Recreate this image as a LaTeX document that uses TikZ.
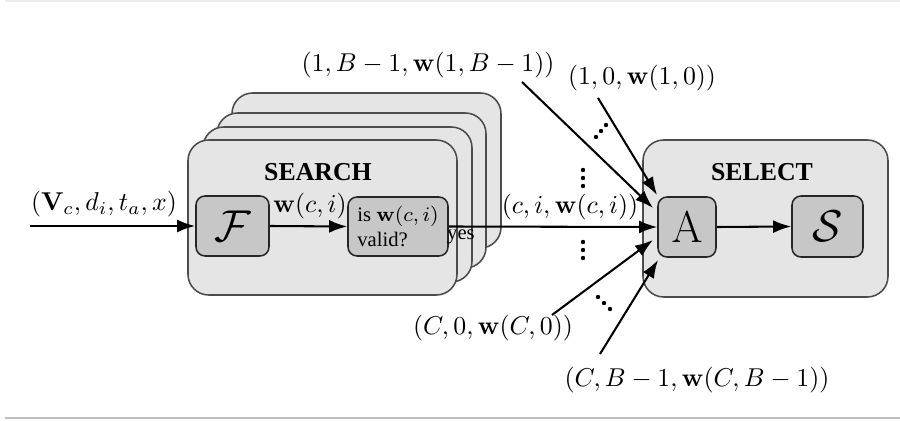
\documentclass[tikz,border=0pt]{standalone}
\usepackage[no-math]{fontspec}
\newfontfamily\tms{Liberation Serif}
\usetikzlibrary{arrows.meta}
\begin{document}
\begin{tikzpicture}[x=0.3876pt,y=-0.3876pt,
  bigbox/.style={draw=black!70, fill=black!10, line width=0.6pt, rounded corners=8pt},
  inbox/.style={draw=black!85, fill=black!22, line width=0.6pt, rounded corners=3.5pt, inner sep=0pt},
  conn/.style={line width=0.8pt, -{Latex[length=7pt,width=5pt]}},
  txt/.style={font=\tms\footnotesize, inner sep=0pt},
  ttl/.style={font=\tms\bfseries, inner sep=0pt},
  mlbl/.style={inner sep=0pt}]
\def\ux{0.3876pt}
\path[use as bounding box, fill=white] (0,0) rectangle (900,421);
\draw[black!7, line width=0.6pt] (5,1) -- (900,1);
\draw[black!25, line width=0.8pt] (5,418) -- (900,418);
% search stack
\foreach \dx/\t in {44/93, 29/113, 15/127}
  \draw[bigbox] ({188+\dx},\t) rectangle ({457+\dx},{\t+155});
\draw[bigbox] (188,140) rectangle (457,295);
\coordinate (search) at (322,217);
\node[ttl] (searchlbl) at (318,172) {SEARCH};
% select box
\draw[bigbox] (643,140) rectangle (888,297);
\node[ttl] (selectlbl) at (762,172) {SELECT};
% inner nodes
\node[inbox, minimum width={73*\ux}, minimum height={60*\ux}, font=\LARGE] (F) at (232.5,226) {$\mathcal{F}$};
\node[inbox, minimum width={100*\ux}, minimum height={59*\ux}, font=\tms\footnotesize, align=left] (V) at (398,226.5) {is $\mathbf{w}(c,i)$\\valid?};
\node[inbox, minimum width={58*\ux}, minimum height={60*\ux}, font=\LARGE] (A) at (687,227) {$\mathrm{A}$};
\node[inbox, minimum width={71*\ux}, minimum height={61*\ux}, font=\LARGE] (S) at (827.5,226.5) {$\mathcal{S}$};
% input
\coordinate (in) at (30,226);
\draw[conn] (in) -- (F.west);
\node[mlbl] (inlbl) at (104,204) {$(\mathbf{V}_c, d_i, t_a, x)$};
\draw[conn] (F.east) -- (V.west);
\node[mlbl] (wlbl) at (310,206) {$\mathbf{w}(c,i)$};
\draw[conn] (V.east) -- (A.west);
\node[txt] (yes) at (461,237) {yes};
\node[mlbl] (cilbl) at (570,207) {$(c, i, \mathbf{w}(c,i))$};
\draw[conn] (A.east) -- (S.west);
% incoming arrows
\node[mlbl] (l1) at (428,65) {$(1, B-1, \mathbf{w}(1,B-1))$};
\node[mlbl] (l2) at (642,78) {$(1, 0, \mathbf{w}(1,0))$};
\node[mlbl] (l4) at (493,328) {$(C, 0, \mathbf{w}(C,0))$};
\node[mlbl] (l5) at (697,380) {$(C, B-1, \mathbf{w}(C,B-1))$};
\coordinate (s1) at (522,82);  \coordinate (t1) at (653,208);
\coordinate (s2) at (598,98);  \coordinate (t2) at (657,195);
\coordinate (s4) at (552,315); \coordinate (t4) at (653,240);
\coordinate (s5) at (600,354); \coordinate (t5) at (658,260);
\draw[conn] (s1) -- (t1);
\draw[conn] (s2) -- (t2);
\draw[conn] (s4) -- (t4);
\draw[conn] (s5) -- (t5);
% dots
\foreach \p in {(583,170),(583,178),(583,186),(583,242),(583,250),(583,258),
  (596,137),(601,131),(606,125),(598,297),(604,303),(610,309)}
  \fill \p circle (0.85pt);
\end{tikzpicture}
\end{document}
